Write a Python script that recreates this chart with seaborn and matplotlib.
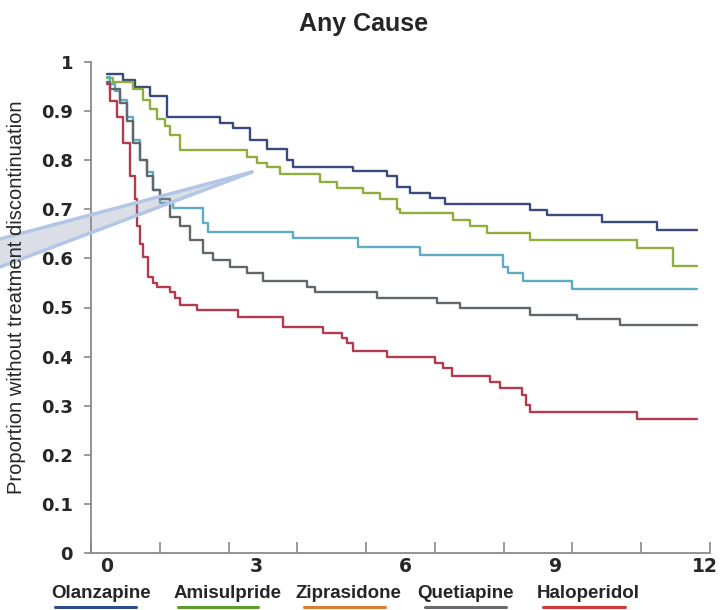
import numpy as np
import pandas as pd
import matplotlib
matplotlib.use("Agg")
import matplotlib.pyplot as plt
from matplotlib.lines import Line2D
from matplotlib.patches import Polygon
import seaborn as sns

# ---------------- data ----------------
drugs = ["Olanzapine", "Amisulpride", "Ziprasidone", "Quetiapine", "Haloperidol"]

olz_t = [0, 0.32, 0.56, 0.86, 1.2, 2.27, 2.53, 2.87, 3.21, 3.61, 3.73, 4.94, 5.62, 5.82,
         6.08, 6.49, 6.79, 8.49, 8.84, 9.94, 11.04, 11.85]
olz_s = [0.975, 0.964, 0.95, 0.93, 0.887, 0.875, 0.866, 0.842, 0.822, 0.80, 0.787, 0.777,
         0.767, 0.746, 0.734, 0.724, 0.711, 0.699, 0.689, 0.675, 0.658, 0.658]

ami_t = [0, 0.12, 0.52, 0.72, 0.86, 1.0, 1.16, 1.27, 1.47, 2.81, 3.01, 3.21, 3.47, 4.28,
         4.62, 5.14, 5.48, 5.82, 5.88, 6.95, 7.29, 7.63, 8.49, 10.64, 11.37, 11.85]
ami_s = [0.968, 0.96, 0.944, 0.923, 0.905, 0.883, 0.87, 0.852, 0.82, 0.807, 0.795, 0.787,
         0.771, 0.756, 0.744, 0.734, 0.72, 0.70, 0.693, 0.679, 0.665, 0.652, 0.638, 0.622,
         0.585, 0.585]

zip_t = [0, 0.06, 0.16, 0.26, 0.40, 0.52, 0.66, 0.80, 0.92, 1.06, 1.33, 1.93, 2.03, 3.73,
         5.04, 6.29, 7.95, 8.05, 8.35, 9.34, 11.85]
zip_s = [0.97, 0.955, 0.94, 0.923, 0.889, 0.842, 0.80, 0.775, 0.74, 0.713, 0.703, 0.673,
         0.654, 0.642, 0.624, 0.606, 0.583, 0.571, 0.553, 0.538, 0.538]

que_t = [0, 0.06, 0.26, 0.40, 0.52, 0.66, 0.80, 0.92, 1.06, 1.27, 1.47, 1.67, 1.93, 2.13,
         2.47, 2.81, 3.13, 4.02, 4.18, 5.42, 6.63, 7.09, 8.49, 9.44, 10.3, 11.85]
que_s = [0.96, 0.944, 0.917, 0.88, 0.836, 0.80, 0.767, 0.74, 0.72, 0.685, 0.665, 0.638,
         0.611, 0.597, 0.583, 0.571, 0.553, 0.542, 0.532, 0.520, 0.51, 0.50, 0.485, 0.476,
         0.464, 0.464]

hal_t = [0, 0.06, 0.20, 0.32, 0.46, 0.56, 0.60, 0.66, 0.72, 0.82, 0.92, 1.0, 1.27, 1.37,
         1.47, 1.81, 2.63, 3.53, 4.34, 4.72, 4.82, 4.94, 5.62, 6.59, 6.75, 6.93, 7.69, 7.89,
         8.33, 8.41, 8.49, 10.64, 11.85]
hal_s = [0.955, 0.92, 0.889, 0.836, 0.767, 0.72, 0.665, 0.63, 0.603, 0.563, 0.55, 0.542,
         0.532, 0.52, 0.505, 0.495, 0.481, 0.461, 0.448, 0.438, 0.428, 0.412, 0.40, 0.387,
         0.377, 0.361, 0.349, 0.336, 0.322, 0.302, 0.287, 0.273, 0.273]

times = [olz_t, ami_t, zip_t, que_t, hal_t]
surv = [olz_s, ami_s, zip_s, que_s, hal_s]

x_tick_labels = ["0", "3", "6", "9", "12"]
x_tick_vals = [0, 3, 6, 9, 12]
y_tick_vals = [0, 0.1, 0.2, 0.3, 0.4, 0.5, 0.6, 0.7, 0.8, 0.9, 1.0]
y_tick_labels = ["0", "0.1", "0.2", "0.3", "0.4", "0.5", "0.6", "0.7", "0.8", "0.9", "1"]

line_colors = ["#3b4a7c", "#8fae3e", "#5fabc2", "#62676b", "#b23b50"]
legend_colors = ["#2c4f8c", "#5c9b2c", "#e07b32", "#676b70", "#cf3a3a"]

# ---------------- build frame ----------------
rows = []
for name, t, s in zip(drugs, times, surv):
    for ti, si in zip(t, s):
        rows.append((name, ti, si))
df = pd.DataFrame(rows, columns=["drug", "month", "prop"])

# ---------------- figure ----------------
sns.set_theme(style="white")
plt.rcParams["font.family"] = ["DejaVu Sans"]

W, H = 726, 610
fig = plt.figure(figsize=(W / 100, H / 100), dpi=100)
ax = fig.add_axes([91 / W, 1 - 553 / H, (710 - 91) / W, (553 - 62) / H])

sns.lineplot(data=df, x="month", y="prop", hue="drug", hue_order=drugs,
             palette=dict(zip(drugs, line_colors)), estimator=None, sort=False,
             drawstyle="steps-post", linewidth=1.7, legend=False, ax=ax)

x0 = (91 - 107) / 49.8
x1 = (710 - 107) / 49.8
ax.set_xlim(x0, x1)
ax.set_ylim(0, 1)

for side in ["top", "right"]:
    ax.spines[side].set_visible(False)
for side in ["left", "bottom"]:
    ax.spines[side].set_color("#8a8a8a")
    ax.spines[side].set_linewidth(1.3)

# major x ticks (unlabelled) evenly dividing the axis, minor ticks carry labels
ax.set_xticks(np.linspace(x0, x1, 10))
ax.set_xticklabels([])
ax.tick_params(axis="x", which="major", direction="in", length=8, width=1.2,
               color="#8a8a8a", bottom=True)
ax.set_xticks(x_tick_vals, minor=True)
ax.set_xticklabels(x_tick_labels, minor=True, fontsize=13.5, fontweight="bold")
ax.tick_params(axis="x", which="minor", length=0, pad=3, bottom=True)

ax.set_yticks(y_tick_vals)
ax.set_yticklabels(y_tick_labels, fontsize=13, fontweight="bold")
ax.tick_params(axis="y", direction="out", length=5, width=1.2, color="#8a8a8a",
               left=True, pad=8)

ax.set_xlabel("")
ax.set_ylabel("")

fig.text(364 / W, 1 - 24 / H, "Any Cause", ha="center", va="center",
         fontsize=18, fontweight="bold", family=["Liberation Sans"])
fig.text(17 / W, 1 - 297 / H, "Proportion without treatment discontinuation",
         rotation=90, ha="center", va="center", fontsize=14.5,
         family=["Liberation Sans"])

# legend below the axis
leg_centers = [101, 228, 348, 465, 588]
leg_lines = [(55, 136), (178, 258), (304, 385), (425, 506), (543, 625)]
for name, cx, (la, lb), col in zip(drugs, leg_centers, leg_lines, legend_colors):
    fig.text(cx / W, 1 - 594 / H, name, ha="center", va="center", fontsize=13.5,
             fontweight="bold", family=["Liberation Sans"])
    fig.add_artist(Line2D([la / W, lb / W], [1 - 607 / H, 1 - 607 / H],
                          transform=fig.transFigure, color=col, linewidth=2.2))

# translucent pointer overlay
pts = [(0, 239), (252, 172), (0, 267)]
poly = Polygon([(px / W, 1 - py / H) for px, py in pts], closed=True,
               transform=fig.transFigure, facecolor="#8797b0", alpha=0.3,
               edgecolor="none")
fig.add_artist(poly)
fig.add_artist(Line2D([0, 252 / W], [1 - 239 / H, 1 - 172 / H], transform=fig.transFigure,
                      color="#b3c6e6", linewidth=2.5))
fig.add_artist(Line2D([0, 252 / W], [1 - 267 / H, 1 - 172 / H], transform=fig.transFigure,
                      color="#b3c6e6", linewidth=2.5))

fig.savefig("out.png", dpi=100)
